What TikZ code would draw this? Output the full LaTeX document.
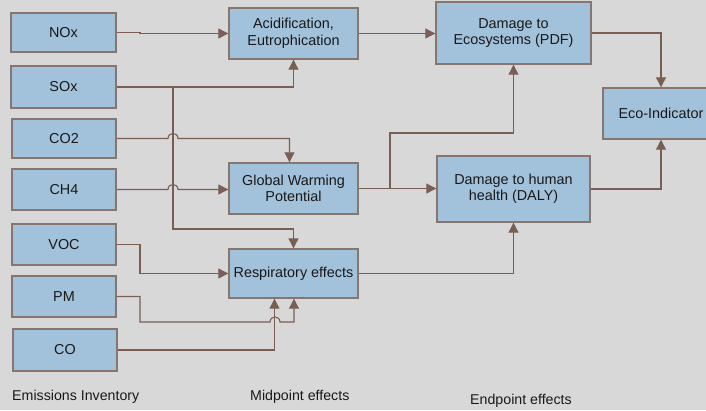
\documentclass[tikz,border=0pt]{standalone}
\usepackage{fontspec}
\setmainfont{Liberation Sans}
\usetikzlibrary{arrows.meta,calc}
\definecolor{bg}{RGB}{216,216,216}
\definecolor{boxfill}{RGB}{162,193,219}
\definecolor{boxline}{RGB}{135,118,112}
\definecolor{conncol}{RGB}{122,94,84}
\begin{document}
\begin{tikzpicture}[x=1pt,y=-1pt,
  box/.style={draw=boxline,fill=boxfill,line width=1.4pt,inner sep=0pt,align=center,
    font=\fontsize{14.4}{16.5}\selectfont,text=black!90},
  conn/.style={draw=conncol,line width=1.1pt,-{Triangle[length=10pt,width=10pt]}},
  lab/.style={inner sep=0pt,anchor=west,font=\fontsize{14.2}{16.5}\selectfont,text=black!90}]
\useasboundingbox (0,0) rectangle (706,410);
\fill[bg] (0,0) rectangle (706,410);
% emissions
\node[box,minimum width=105,minimum height=39] (nox) at (63.5,32.5) {NOx};
\node[box,minimum width=105,minimum height=42] (sox) at (63.5,87) {SOx};
\node[box,minimum width=104,minimum height=39] (co2) at (64,138.5) {CO2};
\node[box,minimum width=104,minimum height=41] (ch4) at (64,189.5) {CH4};
\node[box,minimum width=104,minimum height=41] (voc) at (64,244.5) {VOC};
\node[box,minimum width=104,minimum height=41] (pm) at (64,296.5) {PM};
\node[box,minimum width=104,minimum height=42] (co) at (65,350) {CO};
% midpoint
\node[box,minimum width=129,minimum height=51] (acid) at (293.5,33.5) {Acidification,\\Eutrophication};
\node[box,minimum width=129,minimum height=51] (gwp) at (293.5,188.5) {Global Warming\\Potential};
\node[box,minimum width=129,minimum height=49] (resp) at (293.5,273.5) {Respiratory effects};
% endpoint
\node[box,minimum width=155,minimum height=62] (pdf) at (513.5,33) {Damage to\\Ecosystems (PDF)};
\node[box,minimum width=153,minimum height=66] (dhh) at (513.5,189) {Damage to human\\health (DALY)};
\node[box,minimum width=116,minimum height=51] (eco) at (661,113.5) {Eco-Indicator};
% labels
\node[lab] (l1) at (12,397) {Emissions Inventory};
\node[lab] (l2) at (250,397) {Midpoint effects};
\node[lab] (l3) at (470,401) {Endpoint effects};
% connectors
\draw[conn] (nox.east) -- (140,32.5) |- (acid.west);
\draw[conn] (sox.east) -| (acid.south);
\coordinate (j1) at (173,87);
\draw[conn] (j1) -- (173,229) -| (resp.north);
\draw[conn] (co2.east) -- (168,138.5) .. controls (168,131.8) and (178,131.8) .. (178,138.5) -| ($(gwp.north)+(-4,0)$);
\draw[conn] (ch4.east) -- (168,189.5) .. controls (168,182.8) and (178,182.8) .. (178,189.5) -- (ch4.east -| gwp.west);
\draw[conn] (voc.east) -- (140,244.5) |- (resp.west);
\draw[conn] (pm.east) -- (140,296.5) |- (270,322) .. controls (270,315.3) and (280,315.3) .. (280,322) -| ($(resp.south)+(0.5,0)$);
\draw[conn] (co.east) -| ($(resp.south)+(-19,0)$);
\draw[conn] (acid.east) -- (acid.east -| pdf.west);
\draw[conn] (gwp.east) -- (gwp.east -| dhh.west);
\coordinate (j2) at (390,188.5);
\draw[conn] (j2) -- (390,133) -| (pdf.south);
\draw[conn] (resp.east) -| (dhh.south);
\draw[conn] (pdf.east) -| (eco.north);
\draw[conn] (dhh.east) -| (eco.south);
\end{tikzpicture}
\end{document}
